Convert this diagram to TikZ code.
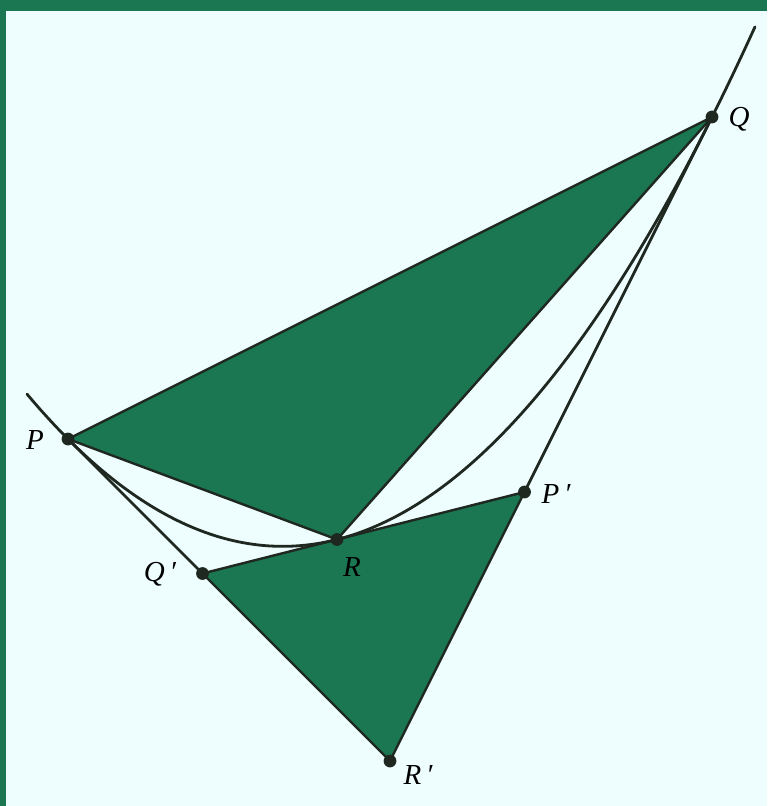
\documentclass[tikz,border=0pt]{standalone}
\usepackage{fontspec}
\setmainfont{Liberation Serif}
\definecolor{panelgreen}{RGB}{27,118,82}
\definecolor{panelbg}{RGB}{238,253,253}
\definecolor{inkdark}{RGB}{30,40,32}

\begin{document}
\begin{tikzpicture}[x=0.5pt, y=-0.5pt,
  tri/.style={fill=panelgreen, draw=inkdark, line width=1.2pt, line join=round},
  ln/.style={draw=inkdark, line width=1.4pt, line cap=round},
  dot/.style={circle, fill=inkdark, inner sep=0pt, minimum size=6.4pt},
  lab/.style={font=\fontsize{14.5}{16}\selectfont\itshape, inner sep=0pt}
]
  % panel with the green frame
  \fill[panelbg] (0,0) rectangle (767,806);
  \fill[panelgreen] (0,0) rectangle (767,11);
  \fill[panelgreen] (0,0) rectangle (6,806);
  \useasboundingbox (0,0) rectangle (767,806);

  % points on the parabola and where the tangents meet
  \coordinate (P) at (68,439);
  \coordinate (Q) at (712,117);
  \coordinate (R) at (337,539.5);
  \coordinate (Pp) at (524.5,492);
  \coordinate (Qp) at (202.5,573.5);
  \coordinate (Rp) at (390,761);

  \draw[tri] (P) -- (Q) -- (R) -- cycle;
  \draw[tri] (Pp) -- (Qp) -- (Rp) -- cycle;

  % parabola and tangents
  \draw[ln] plot[domain=-0.41:6.87, samples=120, smooth]
    ({68+100*\x}, {439+100*\x-23.29*\x*\x});
  \draw[ln] (P) -- (Qp);
  \draw[ln] (Q) -- (Pp);

  \foreach \p in {P,Q,R,Pp,Qp,Rp}
    \node[dot] (d\p) at (\p) {};

  \node[lab] (lP) at (35,440) {P};
  \node[lab] (lQ) at (739,119) {Q};
  \node[lab] (lR) at (352,567) {R};
  \node[lab] (lPp) at (556,494) {P\,′};
  \node[lab] (lQp) at (160,574) {Q\,′};
  \node[lab] (lRp) at (418,775) {R\,′};
\end{tikzpicture}
\end{document}
